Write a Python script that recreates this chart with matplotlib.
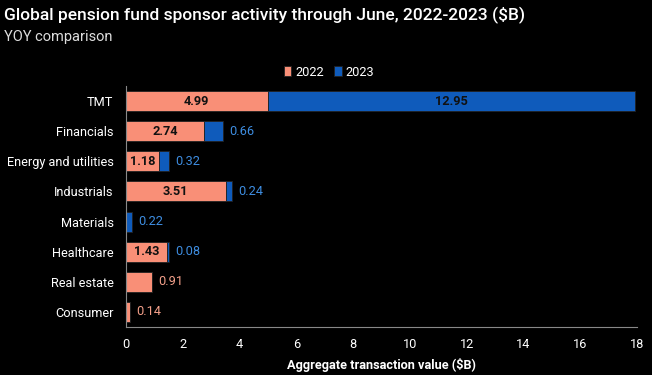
import matplotlib
matplotlib.use("Agg")
import matplotlib.pyplot as plt
import numpy as np

categories = ["TMT", "Financials", "Energy and utilities", "Industrials",
              "Materials", "Healthcare", "Real estate", "Consumer"]
v2022 = [4.99, 2.74, 1.18, 3.51, 0.0, 1.43, 0.91, 0.14]
v2023 = [12.95, 0.66, 0.32, 0.24, 0.22, 0.08, 0.0, 0.0]
xticks = [0, 2, 4, 6, 8, 10, 12, 14, 16, 18]

plt.rcParams['font.family'] = ['Roboto', 'DejaVu Sans']
C22 = '#F98F77'
C23 = '#0F5BBB'
T23 = '#3E8DE0'
T22 = '#F4A08A'
FS = 9.2

fig = plt.figure(figsize=(6.52, 3.75), dpi=100, facecolor='black')
ax = fig.add_axes([126/652, 1-327/375, (637-126)/652, (327-86)/375])
ax.set_facecolor('black')

y = np.arange(len(categories))
h = 0.66
ax.barh(y, v2022, height=h, color=C22, edgecolor='#222222', linewidth=0.6, label='2022')
ax.barh(y, v2023, height=h, left=v2022, color=C23, edgecolor='#222222', linewidth=0.6, label='2023')

for i in range(len(categories)):
    a, b = v2022[i], v2023[i]
    if a > 1.0:
        ax.text(a/2, y[i], f"{a:.2f}", ha='center', va='center', color='#111111',
                fontsize=FS, fontweight='bold')
    if b > 3:
        ax.text(a + b/2, y[i], f"{b:.2f}", ha='center', va='center', color='#111111',
                fontsize=FS, fontweight='bold')
    elif b > 0:
        ax.text(a + b + 0.22, y[i], f"{b:.2f}", ha='left', va='center', color=T23, fontsize=FS)
    elif a > 0:
        ax.text(a + 0.22, y[i], f"{a:.2f}", ha='left', va='center', color=T22, fontsize=FS)

ax.set_ylim(len(categories) - 0.5, -0.5)
ax.set_xlim(0, 18)
ax.set_xticks(xticks)
ax.set_yticks(y)
ax.set_yticklabels(categories)
ax.tick_params(axis='both', colors='white', labelsize=FS, length=0)
ax.tick_params(axis='x', pad=8)
ax.tick_params(axis='y', pad=9)
for s in ['top', 'right']:
    ax.spines[s].set_visible(False)
for s in ['left', 'bottom']:
    ax.spines[s].set_color('#888888')
    ax.spines[s].set_linewidth(0.8)
ax.set_xlabel("Aggregate transaction value ($B)", color='white', fontsize=FS,
              fontweight='bold', labelpad=5)

leg = fig.legend(loc='center', bbox_to_anchor=(329/652, 1-72/375), ncol=2, frameon=False,
                 fontsize=FS, handlelength=0.6, handleheight=0.9, handletextpad=0.3,
                 columnspacing=0.8, labelcolor='white')

fig.text(4/652, 1-15/375, "Global pension fund sponsor activity through June, 2022-2023 ($B)",
         color='white', fontsize=12.5, fontweight='medium', va='center', ha='left')
fig.text(4/652, 1-37/375, "YOY comparison", color='#DDDDDD', fontsize=10.5,
         va='center', ha='left')

fig.savefig('out.png', dpi=100, facecolor='black')
